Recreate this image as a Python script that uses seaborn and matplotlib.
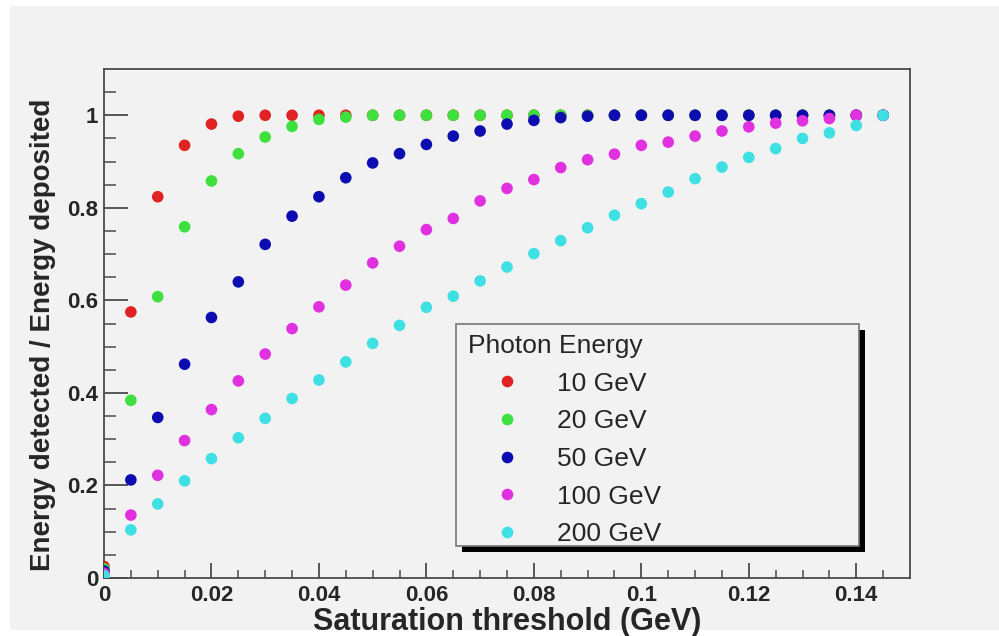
import matplotlib
matplotlib.use("Agg")
import matplotlib.pyplot as plt
from matplotlib.patches import Rectangle
import seaborn as sns
import pandas as pd

# ---- data ----
threshold = [0.000, 0.005, 0.010, 0.015, 0.020, 0.025, 0.030, 0.035, 0.040, 0.045,
             0.050, 0.055, 0.060, 0.065, 0.070, 0.075, 0.080, 0.085, 0.090, 0.095,
             0.100, 0.105, 0.110, 0.115, 0.120, 0.125, 0.130, 0.135, 0.140, 0.145]

e10 = [0.025, 0.575, 0.824, 0.935, 0.981, 0.998, 1.000, 1.000, 1.000, 1.000,
       1.000, 1.000, 1.000, 1.000, 1.000, 1.000, 1.000, 1.000, 1.000, 1.000,
       1.000, 1.000, 1.000, 1.000, 1.000, 1.000, 1.000, 1.000, 1.000, 1.000]
e20 = [0.020, 0.384, 0.608, 0.759, 0.858, 0.917, 0.953, 0.976, 0.991, 0.996,
       1.000, 1.000, 1.000, 1.000, 1.000, 1.000, 1.000, 1.000, 1.000, 1.000,
       1.000, 1.000, 1.000, 1.000, 1.000, 1.000, 1.000, 1.000, 1.000, 1.000]
e50 = [0.015, 0.212, 0.347, 0.462, 0.563, 0.640, 0.721, 0.782, 0.824, 0.865,
       0.897, 0.917, 0.937, 0.955, 0.966, 0.981, 0.989, 0.995, 0.998, 1.000,
       1.000, 1.000, 1.000, 1.000, 1.000, 1.000, 1.000, 1.000, 1.000, 1.000]
e100 = [0.010, 0.136, 0.222, 0.297, 0.364, 0.426, 0.484, 0.539, 0.586, 0.633,
        0.681, 0.717, 0.753, 0.777, 0.815, 0.842, 0.861, 0.887, 0.904, 0.916,
        0.935, 0.942, 0.955, 0.966, 0.975, 0.983, 0.988, 0.993, 1.000, 1.000]
e200 = [0.005, 0.104, 0.160, 0.210, 0.258, 0.303, 0.345, 0.388, 0.428, 0.467,
        0.507, 0.546, 0.585, 0.609, 0.642, 0.672, 0.701, 0.729, 0.757, 0.784,
        0.809, 0.834, 0.863, 0.888, 0.909, 0.928, 0.950, 0.962, 0.978, 1.000]

series_labels = ["10 GeV", "20 GeV", "50 GeV", "100 GeV", "200 GeV"]
series_values = [e10, e20, e50, e100, e200]
series_colors = ["#e02222", "#3ee03e", "#0c0cb0", "#e030e0", "#3ee0e4"]

x_ticks = [0, 0.02, 0.04, 0.06, 0.08, 0.10, 0.12, 0.14]
x_ticklabels = ["0", "0.02", "0.04", "0.06", "0.08", "0.1", "0.12", "0.14"]
y_ticks = [0, 0.2, 0.4, 0.6, 0.8, 1.0]
y_ticklabels = ["0", "0.2", "0.4", "0.6", "0.8", "1"]

rows = []
for lab, vals in zip(series_labels, series_values):
    for xv, yv in zip(threshold, vals):
        rows.append({"threshold": xv, "ratio": yv, "Photon Energy": lab})
df = pd.DataFrame(rows)

# ---- style ----
sns.set_theme(style="white")
plt.rcParams["font.family"] = ["Liberation Sans", "DejaVu Sans"]
BG = "#f2f2f2"

fig = plt.figure(figsize=(9.99, 6.36), dpi=100, facecolor="white")
bgrect = Rectangle((10 / 999, 6 / 636), 1 - 10 / 999, 1 - 12 / 636,
                   transform=fig.transFigure, facecolor=BG,
                   edgecolor="none", zorder=-10)
fig.patches.append(bgrect)
ax = fig.add_axes([104 / 999, 1 - 578 / 636, 806 / 999, 509 / 636])
ax.set_zorder(1)
ax.set_facecolor(BG)

sns.scatterplot(data=df, x="threshold", y="ratio", hue="Photon Energy",
                hue_order=series_labels, palette=series_colors,
                s=70, linewidth=0, ax=ax, legend=True, zorder=3)

ax.set_xlim(0, 0.15)
ax.set_ylim(0, 1.1)
ax.set_xticks(x_ticks)
ax.set_xticklabels(x_ticklabels)
ax.set_yticks(y_ticks)
ax.set_yticklabels(y_ticklabels)
ax.set_xticks([v / 1000 for v in range(5, 150, 5) if v % 20 != 0], minor=True)
ax.set_yticks([0.05, 0.1, 0.15, 0.25, 0.3, 0.35, 0.45, 0.5, 0.55, 0.65, 0.7,
               0.75, 0.85, 0.9, 0.95, 1.05], minor=True)

frame_c = "#4a4a4a"
for sp in ax.spines.values():
    sp.set_color(frame_c)
    sp.set_linewidth(1.3)
ax.tick_params(axis="x", which="major", direction="in", length=11, width=1.3,
               color=frame_c, pad=5, labelsize=16, top=False, bottom=True)
ax.tick_params(axis="x", which="minor", direction="in", length=5.5, width=1.1,
               color=frame_c, top=False, bottom=True)
ax.tick_params(axis="y", which="major", direction="in", length=17, width=1.3,
               color=frame_c, pad=4, labelsize=16, right=False, left=True)
ax.tick_params(axis="y", which="minor", direction="in", length=8.5, width=1.1,
               color=frame_c, right=False, left=True)
for t in ax.get_xticklabels() + ax.get_yticklabels():
    t.set_fontweight("bold")

ax.set_xlabel("Saturation threshold (GeV)", fontsize=22, fontweight="bold")
ax.set_ylabel("Energy detected / Energy deposited", fontsize=20, fontweight="bold")
ax.xaxis.set_label_coords(0.5, (578 - 630) / 509)
ax.xaxis.label.set_va("baseline")
ax.yaxis.set_label_coords(-0.076, 0.477)
ax.yaxis.label.set_va("center")

# legend box with black drop shadow
px = 1 / 806
py = 1 / 509
bx0 = (456 - 104) * px
bx1 = (859 - 104) * px
by0 = (578 - 546) * py
by1 = (578 - 324) * py
ax.add_patch(Rectangle((bx0 + 6 * px, by0 - 6 * py), bx1 - bx0, by1 - by0,
                       transform=ax.transAxes, facecolor="black",
                       edgecolor="none", zorder=5))
ax.add_patch(Rectangle((bx0, by0), bx1 - bx0, by1 - by0,
                       transform=ax.transAxes, facecolor=BG,
                       edgecolor="#777777", linewidth=1.2, zorder=5.5))

sns.move_legend(ax, loc="upper left",
                bbox_to_anchor=(bx0 - 4 * px, by1 + 6 * py),
                frameon=False, title="Photon Energy", fontsize=19,
                title_fontsize=19, borderpad=0.6, borderaxespad=0,
                handlelength=2.95, handletextpad=0.42, labelspacing=0.52,
                alignment="left", markerscale=1.0)
leg = ax.get_legend()
leg.set_zorder(6)

fig.savefig("out.png", dpi=100, facecolor="white")
